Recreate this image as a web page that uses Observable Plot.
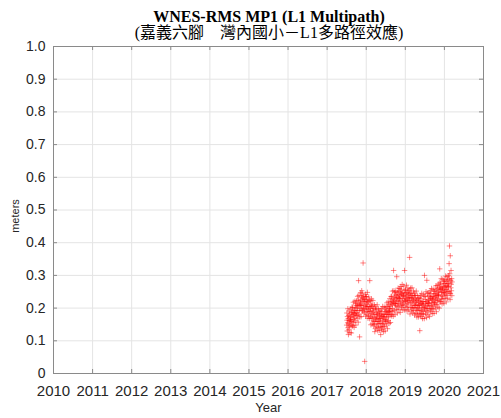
<!DOCTYPE html>
<html>
<head>
<meta charset="utf-8">
<script src="https://cdn.jsdelivr.net/npm/d3@7"></script>
<script src="https://cdn.jsdelivr.net/npm/@observablehq/plot@0.6"></script>
<style>
  html, body { margin: 0; padding: 0; background: #fff; }
  #wrap { position: relative; width: 501px; height: 418px; overflow: hidden; }
  #chart { position: absolute; left: 0; top: 0; }
  .title { position: absolute; left: 0; width: 538px; text-align: center; color: #000; white-space: pre; }
  #t1 { top: 9px; height: 15px; font: bold 16px/15px "Liberation Serif", "Times New Roman", serif; }
  #t2 { top: 25px; height: 16px; font: 16px/16px "Liberation Serif", "Noto Sans CJK TC", serif; }
  #xlab { position: absolute; top: 400px; left: 0; width: 537px; text-align: center; font: 13px/16px "Liberation Sans", Arial, sans-serif; color: #262626; }
  #ylab { position: absolute; left: 15px; top: 216px; transform: translate(-50%, -50%) rotate(-90deg); font: 11px/12px "Liberation Sans", Arial, sans-serif; color: #262626; white-space: nowrap; }
</style>
</head>
<body>
<div id="wrap">
  <div id="chart"></div>
  <div class="title" id="t1">WNES-RMS MP1 (L1 Multipath)</div>
  <div class="title" id="t2">(嘉義六腳　灣內國小－L1多路徑效應)</div>
  <div id="xlab">Year</div>
  <div id="ylab">meters</div>
</div>
<script>
const xTicks = [2010, 2011, 2012, 2013, 2014, 2015, 2016, 2017, 2018, 2019, 2020, 2021];
const yTicks = [0, 0.1, 0.2, 0.3, 0.4, 0.5, 0.6, 0.7, 0.8, 0.9, 1.0];

// observation epochs (decimal year)
const epochs = [
2017.500,2017.505,2017.510,2017.515,2017.520,2017.525,2017.530,2017.535,2017.540,2017.545,
2017.550,2017.555,2017.560,2017.565,2017.570,2017.575,2017.580,2017.585,2017.590,2017.595,
2017.600,2017.605,2017.610,2017.615,2017.620,2017.625,2017.630,2017.635,2017.640,2017.645,
2017.650,2017.655,2017.660,2017.665,2017.670,2017.675,2017.680,2017.685,2017.690,2017.695,
2017.700,2017.705,2017.710,2017.715,2017.720,2017.725,2017.730,2017.735,2017.740,2017.745,
2017.750,2017.755,2017.760,2017.765,2017.770,2017.775,2017.780,2017.785,2017.790,2017.795,
2017.800,2017.805,2017.810,2017.815,2017.820,2017.825,2017.830,2017.835,2017.840,2017.845,
2017.850,2017.855,2017.860,2017.865,2017.870,2017.875,2017.880,2017.885,2017.890,2017.895,
2017.900,2017.905,2017.910,2017.915,2017.920,2017.925,2017.930,2017.935,2017.940,2017.945,
2017.950,2017.955,2017.960,2017.965,2017.970,2017.975,2017.980,2017.985,2017.990,2017.995,
2018.000,2018.005,2018.010,2018.015,2018.020,2018.025,2018.030,2018.035,2018.040,2018.045,
2018.050,2018.055,2018.060,2018.065,2018.070,2018.075,2018.080,2018.085,2018.090,2018.095,
2018.100,2018.105,2018.110,2018.115,2018.120,2018.125,2018.130,2018.135,2018.140,2018.145,
2018.150,2018.155,2018.160,2018.165,2018.170,2018.175,2018.180,2018.185,2018.190,2018.195,
2018.200,2018.205,2018.210,2018.215,2018.220,2018.225,2018.230,2018.235,2018.240,2018.245,
2018.250,2018.255,2018.260,2018.265,2018.270,2018.275,2018.280,2018.285,2018.290,2018.295,
2018.300,2018.305,2018.310,2018.315,2018.320,2018.325,2018.330,2018.335,2018.340,2018.345,
2018.350,2018.355,2018.360,2018.365,2018.370,2018.375,2018.380,2018.385,2018.390,2018.395,
2018.400,2018.405,2018.410,2018.415,2018.420,2018.425,2018.430,2018.435,2018.440,2018.445,
2018.450,2018.455,2018.460,2018.465,2018.470,2018.475,2018.480,2018.485,2018.490,2018.495,
2018.500,2018.505,2018.510,2018.515,2018.520,2018.525,2018.530,2018.535,2018.540,2018.545,
2018.550,2018.555,2018.560,2018.565,2018.570,2018.575,2018.580,2018.585,2018.590,2018.595,
2018.600,2018.605,2018.610,2018.615,2018.620,2018.625,2018.630,2018.635,2018.640,2018.645,
2018.650,2018.655,2018.660,2018.665,2018.670,2018.675,2018.680,2018.685,2018.690,2018.695,
2018.700,2018.705,2018.710,2018.715,2018.720,2018.725,2018.730,2018.735,2018.740,2018.745,
2018.750,2018.755,2018.760,2018.765,2018.770,2018.775,2018.780,2018.785,2018.790,2018.795,
2018.800,2018.805,2018.810,2018.815,2018.820,2018.825,2018.830,2018.835,2018.840,2018.845,
2018.850,2018.855,2018.860,2018.865,2018.870,2018.875,2018.880,2018.885,2018.890,2018.895,
2018.900,2018.905,2018.910,2018.915,2018.920,2018.925,2018.930,2018.935,2018.940,2018.945,
2018.950,2018.955,2018.960,2018.965,2018.970,2018.975,2018.980,2018.985,2018.990,2018.995,
2019.000,2019.005,2019.010,2019.015,2019.020,2019.025,2019.030,2019.035,2019.040,2019.045,
2019.050,2019.055,2019.060,2019.065,2019.070,2019.075,2019.080,2019.085,2019.090,2019.095,
2019.100,2019.105,2019.110,2019.115,2019.120,2019.125,2019.130,2019.135,2019.140,2019.145,
2019.150,2019.155,2019.160,2019.165,2019.170,2019.175,2019.180,2019.185,2019.190,2019.195,
2019.200,2019.205,2019.210,2019.215,2019.220,2019.225,2019.230,2019.235,2019.240,2019.245,
2019.250,2019.255,2019.260,2019.265,2019.270,2019.275,2019.280,2019.285,2019.290,2019.295,
2019.300,2019.305,2019.310,2019.315,2019.320,2019.325,2019.330,2019.335,2019.340,2019.345,
2019.350,2019.355,2019.360,2019.365,2019.370,2019.375,2019.380,2019.385,2019.390,2019.395,
2019.400,2019.405,2019.410,2019.415,2019.420,2019.425,2019.430,2019.435,2019.440,2019.445,
2019.450,2019.455,2019.460,2019.465,2019.470,2019.475,2019.480,2019.485,2019.490,2019.495,
2019.500,2019.505,2019.510,2019.515,2019.520,2019.525,2019.530,2019.535,2019.540,2019.545,
2019.550,2019.555,2019.560,2019.565,2019.570,2019.575,2019.580,2019.585,2019.590,2019.595,
2019.600,2019.605,2019.610,2019.615,2019.620,2019.625,2019.630,2019.635,2019.640,2019.645,
2019.650,2019.655,2019.660,2019.665,2019.670,2019.675,2019.680,2019.685,2019.690,2019.695,
2019.700,2019.705,2019.710,2019.715,2019.720,2019.725,2019.730,2019.735,2019.740,2019.745,
2019.750,2019.755,2019.760,2019.765,2019.770,2019.775,2019.780,2019.785,2019.790,2019.795,
2019.800,2019.805,2019.810,2019.815,2019.820,2019.825,2019.830,2019.835,2019.840,2019.845,
2019.850,2019.855,2019.860,2019.865,2019.870,2019.875,2019.880,2019.885,2019.890,2019.895,
2019.900,2019.905,2019.910,2019.915,2019.920,2019.925,2019.930,2019.935,2019.940,2019.945,
2019.950,2019.955,2019.960,2019.965,2019.970,2019.975,2019.980,2019.985,2019.990,2019.995,
2020.000,2020.005,2020.010,2020.015,2020.020,2020.025,2020.030,2020.035,2020.040,2020.045,
2020.050,2020.055,2020.060,2020.065,2020.070,2020.075,2020.080,2020.085,2020.090,2020.095,
2020.100,2020.105,2020.110,2020.115,2020.120,2020.125,2020.130,2020.135,2020.140,2020.145,
2020.150,2020.155,2020.160,2020.165,2020.170,2020.175,2020.180,2020.185,2020.190,2020.195
];

// RMS MP1 values in millimetres
const mp1mm = [
148,185,163,130,174,155,198,140,168,119,
177,152,134,191,162,145,182,125,171,160,
165,197,149,174,124,187,159,203,144,181,
202,147,187,165,218,176,156,193,141,183,
170,192,221,161,200,182,215,148,208,177,
186,223,201,168,212,193,236,178,206,157,
225,284,182,239,210,193,112,173,219,208,
215,247,199,224,174,237,209,253,194,231,
246,191,231,209,338,220,200,237,185,227,
197,219,37,188,227,209,242,175,235,204,
198,235,213,180,224,205,248,190,218,169,
220,195,177,234,205,188,225,168,284,203,
190,222,174,199,149,212,184,228,169,206,
207,152,192,170,223,181,161,198,146,188,
159,181,210,150,128,171,204,137,197,166,
160,197,175,142,186,167,210,152,180,131,
184,159,141,198,169,152,189,132,178,167,
160,192,144,169,119,182,154,198,139,176,
189,134,174,152,205,163,143,180,128,170,
152,174,203,143,182,164,197,130,190,159,
166,203,181,148,192,173,216,158,186,137,
205,180,162,219,190,173,210,153,199,188,
197,229,181,206,156,219,191,235,176,213,
236,181,221,199,252,210,190,227,175,217,
315,224,253,193,232,214,247,180,240,209,
214,251,229,196,240,221,296,206,234,185,
247,222,204,261,232,215,252,195,241,230,
228,260,212,237,187,250,222,266,207,244,
256,201,241,219,272,230,210,247,195,237,
216,238,267,207,246,228,315,194,254,223,
220,257,235,202,246,227,270,212,240,191,
247,222,204,261,232,215,252,195,241,230,
223,255,355,232,182,245,217,261,202,239,
246,191,231,209,262,220,200,237,185,227,
201,223,252,192,231,213,246,179,239,208,
202,239,217,184,228,209,252,194,222,173,
225,200,182,239,210,193,230,173,219,208,
200,232,184,209,131,222,194,238,179,216,
229,174,214,192,245,203,183,220,168,210,
190,212,241,181,220,202,235,168,300,197,
200,237,215,182,226,207,250,192,220,171,
285,206,188,245,216,199,236,179,225,214,
215,247,199,224,174,237,209,253,194,231,
244,189,229,207,260,218,198,235,183,225,
206,228,257,197,236,218,251,184,244,213,
218,255,233,200,244,225,268,210,238,189,
255,230,212,269,240,223,260,203,249,238,
241,273,225,250,200,263,320,279,220,257,
274,219,259,237,290,248,228,265,213,255,
237,259,288,228,267,249,282,215,275,244,
248,285,263,230,274,255,298,240,268,219,
282,257,239,296,267,250,287,230,276,265,
267,299,251,276,336,289,390,305,246,226,
360,244,284,262,315,273,253,290,238,280
];

const data = epochs.map((t, i) => ({year: t, rms: mp1mm[i] / 1000}));

const chart = Plot.plot({
  width: 501,
  height: 418,
  marginLeft: 53,
  marginRight: 18,
  marginTop: 46,
  marginBottom: 45,
  style: {fontFamily: "'Liberation Sans', Arial, sans-serif", background: "#fff", color: "#262626"},
  x: {domain: [2010, 2021]},
  y: {domain: [0, 1]},
  marks: [
    Plot.gridX(xTicks, {stroke: "#e4e4e4", strokeOpacity: 1}),
    Plot.gridY(yTicks, {stroke: "#e4e4e4", strokeOpacity: 1}),
    Plot.tickX(xTicks, {x: d => d, stroke: "#8a8a8a", insetTop: 323}),
    Plot.tickX(xTicks, {x: d => d, stroke: "#8a8a8a", insetBottom: 323}),
    Plot.tickY(yTicks, {y: d => d, stroke: "#8a8a8a", insetRight: 426}),
    Plot.tickY(yTicks, {y: d => d, stroke: "#8a8a8a", insetLeft: 426}),
    Plot.frame({stroke: "#8a8a8a"}),
    Plot.dot(data, {x: "year", y: "rms", symbol: "plus", r: 1.9, stroke: "#ff0000", strokeWidth: 0.8, strokeOpacity: 0.6}),
    Plot.axisX(xTicks, {tickSize: 0, tickPadding: 12, fontSize: 15, tickFormat: d => String(d), label: null, fill: "#262626"}),
    Plot.axisY(yTicks, {tickSize: 0, tickPadding: 8, fontSize: 14, tickFormat: d => d === 0 ? "0" : d.toFixed(1), label: null, fill: "#262626"})
  ]
});
document.getElementById("chart").appendChild(chart);
</script>
</body>
</html>
